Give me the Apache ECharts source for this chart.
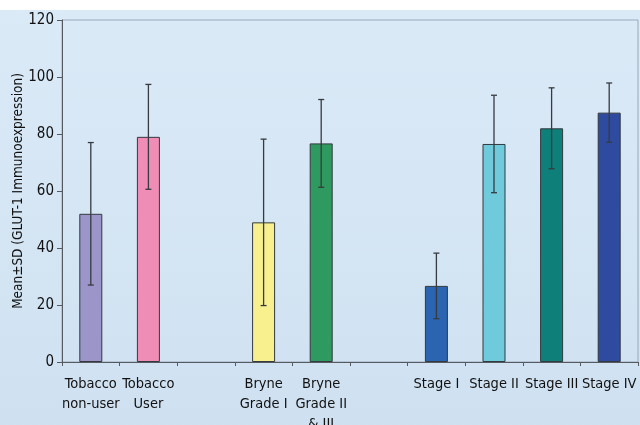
<!DOCTYPE html>
<html>
<head>
<meta charset="utf-8">
<script src="https://cdn.jsdelivr.net/npm/echarts@6/dist/echarts.min.js"></script>
<style>
  html, body { margin: 0; padding: 0; background: #ffffff; }
  #chart { width: 640px; height: 425px; }
</style>
</head>
<body>
<div id="chart"></div>
<script>
// Groups (empty strings are spacer slots between the groups)
const categories = [
  'Tobacco\nnon-user', 'Tobacco\nUser', '',
  'Bryne\nGrade I', 'Bryne\nGrade II\n& III', '',
  'Stage I', 'Stage II', 'Stage III', 'Stage IV'
];
// Mean GLUT-1 immunoexpression
const means = [52, 79, null, 49, 76.7, null, 26.7, 76.5, 82, 87.5];
// Standard deviation
const sds = [25, 18.4, null, 29.2, 15.4, null, 11.5, 17.1, 14.2, 10.4];
const barColors = ['#9c95c9', '#f08db6', null, '#f8f08e', '#2f9a5f', null,
                   '#2b65b1', '#6fcbdc', '#0f7f79', '#2f4b9f'];
const yTicks = { min: 0, max: 120, interval: 20 };

const chart = echarts.init(document.getElementById('chart'), null, { renderer: 'canvas' });

const barData = means.map((v, i) => v == null ? null : {
  value: v,
  itemStyle: { color: barColors[i] }
});
const errData = means.map((v, i) => v == null ? null : [i, v - sds[i], v + sds[i]]);

const labelFont = '"DejaVu Sans Condensed", "Liberation Sans", sans-serif';

chart.setOption({
  backgroundColor: {
    type: 'linear', x: 0, y: 0, x2: 0, y2: 1,
    colorStops: [{ offset: 0, color: '#dbeaf7' }, { offset: 1, color: '#cfe1f1' }]
  },
  animation: false,
  graphic: [
    { type: 'rect', left: 0, top: 0, shape: { width: 640, height: 10 }, style: { fill: '#ffffff' }, z: -1 }
  ],
  grid: {
    left: 62, right: 2, top: 20, bottom: 63,
    containLabel: false, outerBoundsMode: 'none',
    show: true, borderColor: '#9aa9ba', borderWidth: 1, backgroundColor: 'transparent'
  },
  xAxis: {
    type: 'category',
    data: categories,
    boundaryGap: true,
    axisLine: { lineStyle: { color: '#555a60', width: 1 } },
    axisTick: { show: true, interval: 0, length: 4, lineStyle: { color: '#555a60' } },
    axisLabel: {
      interval: 0, margin: 12, color: '#111111',
      fontFamily: labelFont, fontSize: 14.5, lineHeight: 20
    }
  },
  yAxis: {
    type: 'value',
    min: yTicks.min, max: yTicks.max, interval: yTicks.interval,
    name: 'Mean\u00b1SD (GLUT-1 Immunoexpression)',
    nameLocation: 'middle', nameGap: 37, nameRotate: 90, nameMoveOverlap: false,
    nameTextStyle: { color: '#111111', fontFamily: labelFont, fontSize: 13.5 },
    axisLine: { show: true, lineStyle: { color: '#555a60', width: 1 } },
    axisTick: { show: true, length: 5, lineStyle: { color: '#555a60' } },
    splitLine: { show: false },
    axisLabel: { color: '#111111', fontFamily: labelFont, fontSize: 15, margin: 8 }
  },
  series: [
    {
      type: 'bar',
      data: barData,
      barWidth: 23,
      itemStyle: { borderColor: '#33393f', borderWidth: 1 },
      z: 2
    },
    {
      type: 'custom',
      data: errData,
      z: 3,
      renderItem: function (params, api) {
        const x = api.value(0);
        const lo = api.coord([x, api.value(1)]);
        const hi = api.coord([x, api.value(2)]);
        const cap = 3;
        const style = { stroke: '#363b41', lineWidth: 1.3 };
        return {
          type: 'group',
          children: [
            { type: 'line', shape: { x1: hi[0], y1: hi[1], x2: lo[0], y2: lo[1] }, style: style },
            { type: 'line', shape: { x1: hi[0] - cap, y1: hi[1], x2: hi[0] + cap, y2: hi[1] }, style: style },
            { type: 'line', shape: { x1: lo[0] - cap, y1: lo[1], x2: lo[0] + cap, y2: lo[1] }, style: style }
          ]
        };
      }
    }
  ]
});
</script>
</body>
</html>
